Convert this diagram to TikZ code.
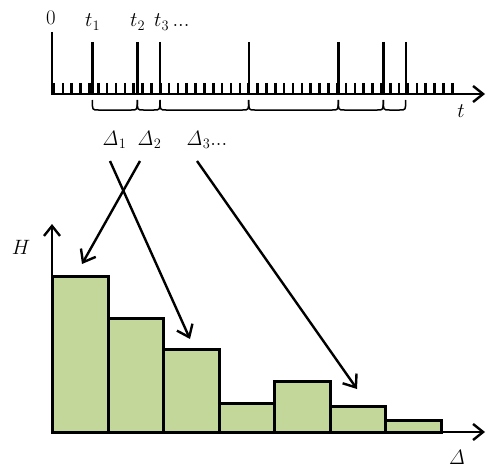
\documentclass[tikz,border=0pt]{standalone}
\usetikzlibrary{arrows.meta}
\definecolor{barfill}{HTML}{C4D79B}
\begin{document}
\begin{tikzpicture}[x=1pt,y=-1pt,
  lbl/.style={font=\fontsize{20}{22}\selectfont, inner sep=0pt},
  axisline/.style={line width=2.4pt},
  barb/.style={-{Straight Barb[length=10pt,width=16pt,line width=2.4pt]}},
  ticklet/.style={line width=2.6pt},
  eventline/.style={line width=2.4pt},
  bracket/.style={line width=1.5pt},
  barbox/.style={line width=3pt, fill=barfill, line join=miter},
  pointer/.style={line width=2.4pt, -{Straight Barb[length=11pt,width=17pt,line width=2.4pt]}}
]
\useasboundingbox (0,0) rectangle (486,468);

% top time axis
\draw[axisline, barb] (52,32) -- (52,94) -- (485,94);
\foreach \i in {0,...,45}
  \draw[ticklet] ({54+8.85*\i},83) -- ({54+8.85*\i},94);
\foreach \x in {92.3,137.3,160,248.7,338.3,383.3,405.7}
  \draw[eventline] (\x,42) -- (\x,94);
\foreach \a/\b in {92.3/137.3,137.3/160,160/248.7,248.7/338.3,338.3/383.3,383.3/405.7}
  \draw[bracket] (\a,100) .. controls (\a,110) .. ({\a+6},110) -- ({\b-6},110) .. controls (\b,110) .. (\b,100);

% top labels
\node[lbl, anchor=base] (zero) at (51,25) {$0$};
\node[lbl, anchor=base west] (t1) at (85,27) {$t_1$};
\node[lbl, anchor=base west] (t2) at (130,27) {$t_2$};
\node[lbl, anchor=base west] (t3) at (154,27) {$t_3\,...$};
\node[lbl] (tlab) at (461,111) {$t$};

% interval labels
\node[lbl, anchor=base west] (d1) at (102,145) {$\mathit{\Delta}_1$};
\node[lbl, anchor=base west] (d2) at (137,145) {$\mathit{\Delta}_2$};
\node[lbl, anchor=base west] (d3) at (186,145) {$\mathit{\Delta}_3...$};

% histogram
\foreach \l/\r/\h in {52/108.3/276, 108.3/163.7/318, 163.7/219/349, 219/274/403, 274/330/381.5, 330/385/406.5, 385/441/420}
  \draw[barbox] (\l,432) rectangle (\r,\h);
\draw[axisline, barb] (52,432) -- (52,224);
\draw[axisline, barb] (52,432) -- (485,432);
\node[lbl] (hlab) at (21,247) {$H$};
\node[lbl] (dlab) at (457,457) {$\mathit{\Delta}$};

% pointers
\coordinate (s1) at (140,161);
\coordinate (e1) at (82,264);
\coordinate (s2) at (110,161);
\coordinate (e2) at (190,339);
\coordinate (s3) at (197,161);
\coordinate (e3) at (357,389);
\draw[pointer] (s1) -- (e1);
\draw[pointer] (s2) -- (e2);
\draw[pointer] (s3) -- (e3);
\end{tikzpicture}
\end{document}
